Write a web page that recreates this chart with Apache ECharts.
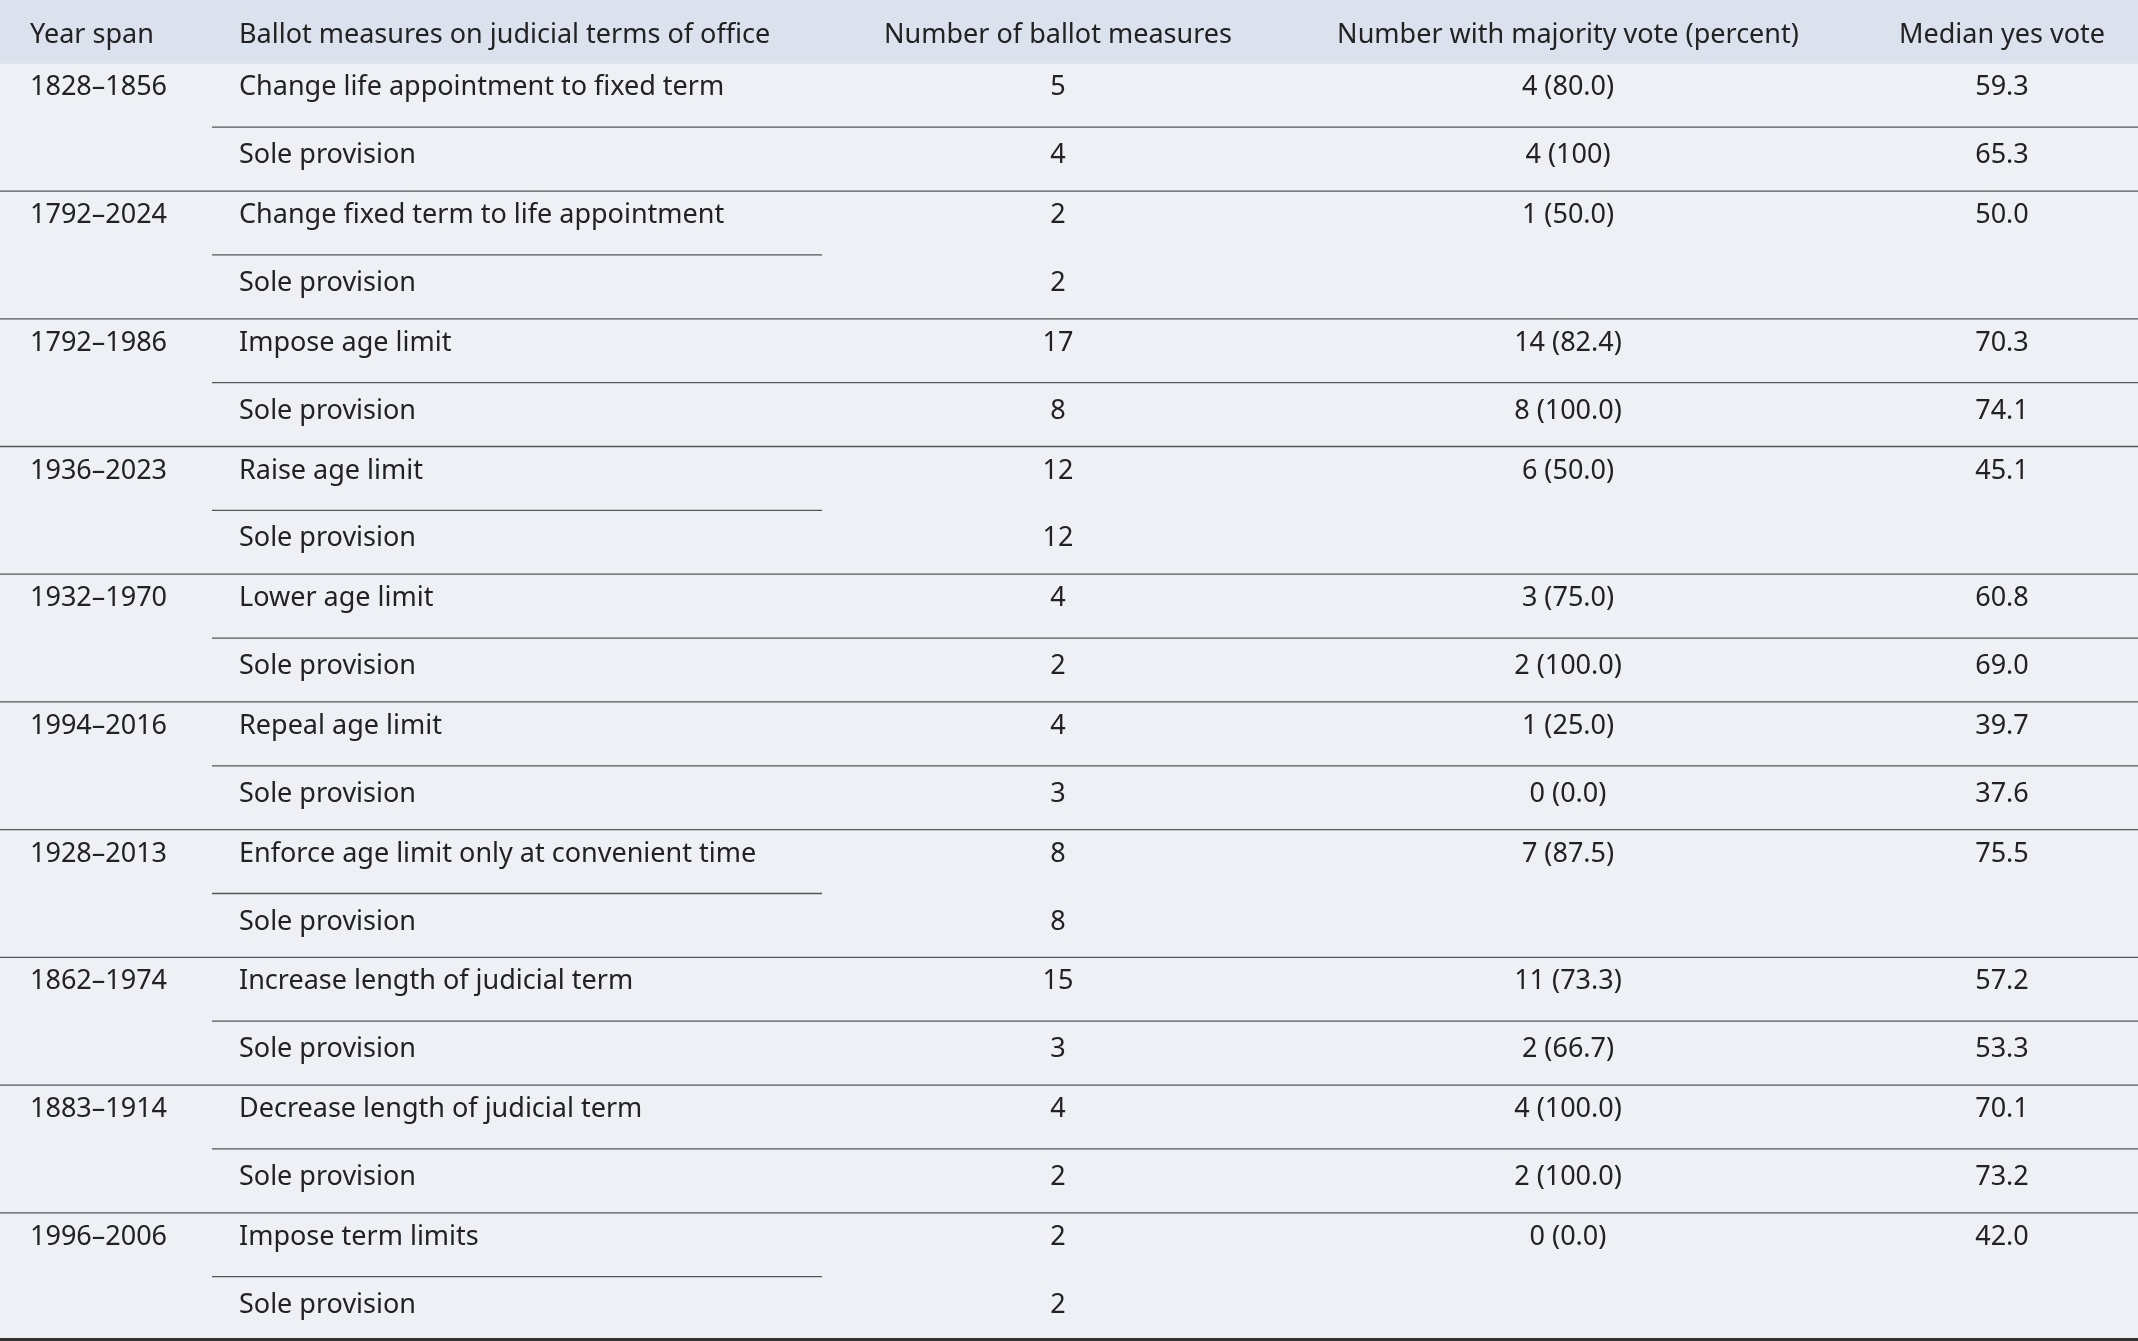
<!DOCTYPE html>
<html><head><meta charset="utf-8">
<script src="https://cdn.jsdelivr.net/npm/echarts@6/dist/echarts.min.js"></script>
<style>html,body{margin:0;padding:0;background:#eff0f5}#c{width:2138px;height:1341px}</style>
</head><body><div id="c"></div>
<script>
const headers = ['Year span','Ballot measures on judicial terms of office','Number of ballot measures','Number with majority vote (percent)','Median yes vote'];
const spans = ['1828–1856','','1792–2024','','1792–1986','','1936–2023','','1932–1970','','1994–2016','','1928–2013','','1862–1974','','1883–1914','','1996–2006',''];
const measures = ['Change life appointment to fixed term','Sole provision','Change fixed term to life appointment','Sole provision','Impose age limit','Sole provision','Raise age limit','Sole provision','Lower age limit','Sole provision','Repeal age limit','Sole provision','Enforce age limit only at convenient time','Sole provision','Increase length of judicial term','Sole provision','Decrease length of judicial term','Sole provision','Impose term limits','Sole provision'];
const counts = ['5','4','2','2','17','8','12','12','4','2','4','3','8','8','15','3','4','2','2','2'];
const majority = ['4 (80.0)','4 (100)','1 (50.0)','','14 (82.4)','8 (100.0)','6 (50.0)','','3 (75.0)','2 (100.0)','1 (25.0)','0 (0.0)','7 (87.5)','','11 (73.3)','2 (66.7)','4 (100.0)','2 (100.0)','0 (0.0)',''];
const median = ['59.3','65.3','50.0','','70.3','74.1','45.1','','60.8','69.0','39.7','37.6','75.5','','57.2','53.3','70.1','73.2','42.0',''];

const W = 2138;
const cols = [{x:30,a:'left'},{x:239,a:'left'},{x:1058,a:'center'},{x:1568,a:'center'},{x:2002,a:'center'}];
const rowsCat = ['h'].concat(measures.map((m,i)=>'r'+i));
const font = '"Noto Sans", sans-serif';

const chart = echarts.init(document.getElementById('c'));
chart.setOption({
  animation:false,
  grid:{left:0,right:0,top:0,bottom:0},
  xAxis:{type:'value',min:0,max:W,show:false},
  yAxis:{type:'category',data:rowsCat,inverse:true,show:false},
  series:[{
    type:'custom',
    data:rowsCat.map((r,i)=>[0,i]),
    renderItem:function(params,api){
      const i = api.value(1);
      const c = api.coord([0,i]);
      const h = api.size([0,1])[1];
      const yTop = c[1]-h/2, yBot = c[1]+h/2;
      const children = [];
      let texts;
      if(i===0){
        children.push({type:'rect',shape:{x:0,y:yTop,width:W,height:h},style:{fill:'#dbe2ee'}});
        texts = headers;
      } else {
        const k=i-1;
        texts=[spans[k],measures[k],counts[k],majority[k],median[k]];
        // bottom line
        if(k%2===1){
          const last = k===measures.length-1;
          children.push({type:'line',shape:{x1:0,y1:yBot-(last?1.5:0.5),x2:W,y2:yBot-(last?1.5:0.5)},style:{stroke:last?'#333':'#555',lineWidth:last?3:1.3}});
        } else {
          const x2 = majority[k+1]==='' ? 822 : W;
          children.push({type:'line',shape:{x1:212,y1:yBot-0.5,x2:x2,y2:yBot-0.5},style:{stroke:'#555',lineWidth:1.3}});
        }
      }
      texts.forEach((t,j)=>{
        if(!t) return;
        children.push({type:'text',x:cols[j].x,y:i===0?c[1]+3:c[1]-(i%2===1?8:4),
          style:{text:t,fill:'#222',font:'27px '+font,align:cols[j].a,verticalAlign:'middle'}});
      });
      return {type:'group',children:children};
    }
  }]
});
</script></body></html>
